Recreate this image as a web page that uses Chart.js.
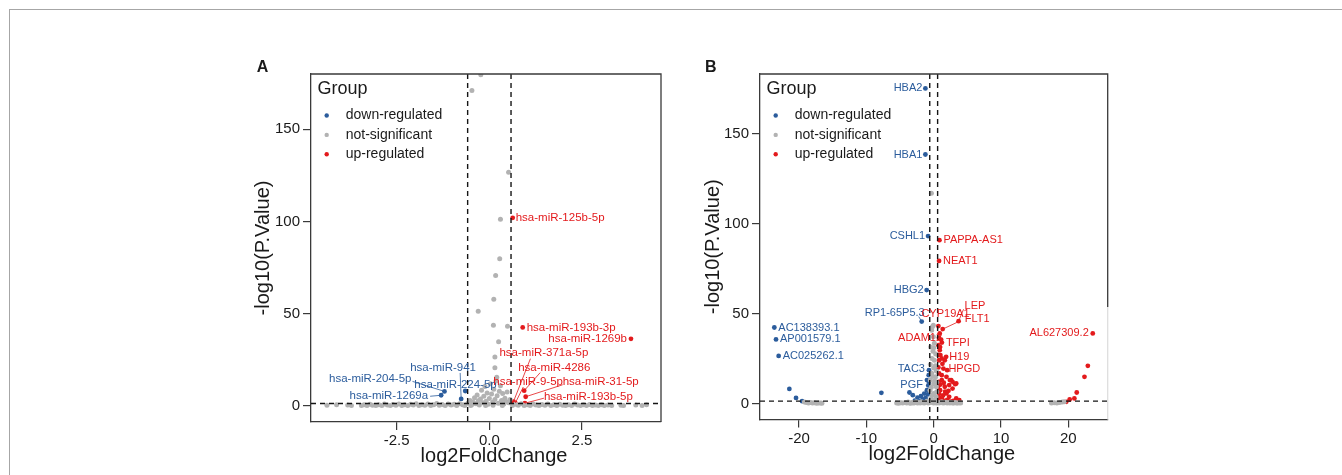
<!DOCTYPE html>
<html><head><meta charset="utf-8">
<script src="https://cdn.jsdelivr.net/npm/chart.js@4.4.1/dist/chart.umd.min.js"></script>
<style>
html,body{margin:0;padding:0;background:#fff;width:1342px;height:475px;overflow:hidden;}
#frame{position:absolute;left:9px;top:9px;width:1340px;height:470px;border-top:1px solid #a6a6a6;border-left:1px solid #a6a6a6;}
.wrap{position:absolute;top:50px;width:450px;height:425px;}
</style></head><body>
<div id="frame"></div>
<div class="wrap" style="left:230px"><canvas id="cA" width="450" height="425"></canvas></div>
<div class="wrap" style="left:680px"><canvas id="cB" width="450" height="425"></canvas></div>
<script>
// ---------------- DATA ----------------
const groups = ['down-regulated', 'not-significant', 'up-regulated'];
const yTicks = [0, 50, 100, 150];
const xTicksA = [-2.5, 0, 2.5];
const xTickLabelsA = ['-2.5', '0.0', '2.5'];
const xTicksB = [-20, -10, 0, 10, 20];
const xTickLabelsB = ['-20', '-10', '0', '10', '20'];
const fcCut = 0.585;   // |log2FC| threshold
const pCut = 1.3;      // -log10(0.05)

// Panel A (miRNA)
const grayA = [
 [-4.38,0.4],[-4.12,0.6],[-3.82,0.5],[-3.72,0.3],
 [-3.45,0.2],[-3.38,0.6],[-3.30,0.3],[-3.22,0.9],[-3.15,0.4],[-3.06,0.2],[-2.98,0.7],[-2.90,0.3],[-2.83,1.0],[-2.75,0.5],
 [-2.67,0.2],[-2.60,0.8],[-2.52,0.4],[-2.44,1.1],[-2.36,0.3],[-2.28,0.6],[-2.20,0.2],[-2.12,0.9],[-2.05,0.5],[-1.97,1.2],
 [-1.90,0.3],[-1.82,0.7],[-1.74,0.4],[-1.66,1.0],[-1.58,0.2],[-1.50,0.6],[-1.42,1.3],[-1.35,0.4],[-1.27,0.8],[-1.19,0.2],
 [-1.11,1.1],[-1.03,0.5],[-0.95,0.9],[-0.88,0.3],[-0.80,1.2],[-0.72,0.6],[-0.66,0.2],
 [-0.58,1.5],[-0.52,3.0],[-0.47,0.8],[-0.44,2.2],[-0.40,4.5],[-0.36,1.2],[-0.33,6.0],[-0.30,2.8],[-0.27,0.5],[-0.24,3.8],
 [-0.21,8.5],[-0.18,1.8],[-0.15,5.2],[-0.12,10.5],[-0.09,2.5],[-0.06,7.0],[-0.03,0.9],[0.00,4.0],[0.03,12.0],[0.06,6.5],
 [0.09,2.0],[0.12,9.0],[0.15,3.5],[0.18,13.5],[0.21,5.5],[0.24,1.5],[0.27,8.0],[0.30,11.0],[0.33,3.0],[0.36,6.8],
 [0.39,1.0],[0.42,4.2],[0.45,2.4],[0.48,7.5],[0.52,1.8],[0.56,3.5],[-0.50,0.3],[0.10,0.4],[0.35,0.2],[-0.10,0.2],
 [-0.47,171],[-0.23,179.6],[0.52,126.7],[0.30,101.2],[0.28,79.8],[0.17,70.8],[0.12,57.8],[-0.30,51.3],[0.11,43.7],
 [0.49,43.2],[0.25,34.8],[0.15,26.5],[0.15,20.7],[0.20,15.5],
 [0.62,0.3],[0.70,0.9],[0.78,0.4],[0.86,1.2],[0.94,0.2],[1.02,0.7],[1.10,0.3],[1.18,1.0],[1.26,0.5],[1.34,0.2],
 [1.42,0.8],[1.50,0.4],[1.58,1.1],[1.66,0.2],[1.74,0.6],[1.82,0.3],[1.90,0.9],[1.98,0.4],[2.06,0.2],[2.14,0.7],
 [2.22,0.3],[2.30,1.0],[2.38,0.5],[2.46,0.2],[2.54,0.6],[2.62,0.3],[2.70,0.8],[2.78,0.2],[2.86,0.5],[2.94,0.3],
 [3.02,0.7],[3.10,0.2],[3.20,0.5],[3.30,0.3],[3.55,0.4],[3.62,0.2],[3.95,0.5],[4.12,0.3],[4.24,0.6]
];
const downA = [[-1.21,7.9],[-1.30,5.8],[-0.76,3.8],[-0.65,8.1]];
const downNamesA = ['hsa-miR-204-5p','hsa-miR-1269a','hsa-miR-941','hsa-miR-224-5p'];
const upA = [[0.63,102],[0.90,42.6],[3.82,36.4],[0.65,2.3],[0.94,8.3],[0.70,1.6],[0.98,5.0],[0.96,1.5]];
const upNamesA = ['hsa-miR-125b-5p','hsa-miR-193b-3p','hsa-miR-1269b','hsa-miR-371a-5p','hsa-miR-4286','hsa-miR-9-5p','hsa-miR-31-5p','hsa-miR-193b-5p'];

// Panel B (mRNA / lncRNA)
const grayB = [
 [-19.2,0.8],[-18.9,0.5],[-18.6,0.3],[-18.3,0.6],[-18.0,0.2],[-17.7,0.4],[-17.4,0.1],[-17.1,0.3],[-16.8,0.2],[-16.6,0.1],
 [-5.5,0.3],[-5.2,0.1],[-4.9,0.4],[-4.6,0.2],
 [-4.2,0.5],[-4.0,0.2],[-3.8,0.8],[-3.6,0.3],[-3.4,0.1],[-3.2,0.6],[-3.0,0.2],[-2.8,0.4],[-2.6,0.9],[-2.4,0.2],[-2.2,0.5],
 [-2.0,0.3],[-1.8,1.0],[-1.6,0.4],[-1.4,0.2],[-1.2,0.7],[-1.0,1.2],[-0.8,0.3],[-0.6,1.1],[-0.4,0.5],[-0.2,1.0],[0.0,0.3],
 [0.2,0.8],[0.4,0.2],[0.6,0.6],[0.8,0.2],[1.0,0.5],[1.2,0.9],[1.4,0.2],[1.6,0.4],[1.8,0.7],[2.0,0.3],[2.2,0.5],[2.4,0.2],
 [2.6,0.6],[2.8,0.3],[3.0,0.2],[3.2,0.5],[3.4,0.3],[3.6,0.2],[3.8,0.4],[4.0,0.2],
 [-0.34,116.7],[-0.2,42.6],[-0.05,43.5],[-0.3,40.7],[-0.05,37.0],[0.1,33.5],[-0.45,31.4],[0.0,31.0],[-0.1,29.0],[0.3,27.5],
 [0.1,24.0],[-0.5,21.6],[0.0,19.7],[0.4,18.0],[-0.3,16.8],[0.3,14.8],[-0.5,13.0],[0.0,11.0],[0.4,9.3],[-0.55,7.4],
 [0.0,5.6],[0.35,3.7],[-0.4,2.8],[0.2,2.0],[-0.2,4.5],[0.45,6.5],[-0.35,9.0],[0.15,12.5],[-0.15,15.0],[0.25,21.0],
 [-0.25,25.0],[0.45,11.8],
 [17.5,0.2],[17.9,0.4],[18.3,0.3],[18.7,0.6],[19.1,0.8],[19.4,1.0]
];
const downB = [
 [-1.23,175],[-1.23,138.3],[-0.83,93],[-1.04,63],[-1.78,45.5],[-0.70,18.5],[-1.0,7.4],
 [-23.67,42.2],[-23.42,35.6],[-23.03,26.4],
 [-21.44,8.1],[-20.45,3.1],[-19.55,1.3],[-7.77,5.9],[-3.6,6.1],[-3.1,4.6],[-2.4,3.3],[-1.9,4.0],[-1.4,5.5],
 [-1.0,13.0],[-0.74,15.7],[-2.8,1.6],[-2.1,1.2],[-1.6,2.2],[-1.2,3.0],[-0.8,10.0],[-0.9,5.0],[-0.7,12.0]
];
const downNamesB = ['HBA2','HBA1','CSHL1','HBG2','RP1-65P5.3','TAC3','PGF','AC138393.1','AP001579.1','AC025262.1'];
const upB = [
 [0.85,90.7],[0.80,79.2],[0.70,43.0],[3.70,45.7],[1.34,41.3],[0.95,31.3],[1.22,33.8],[1.85,25.9],[1.44,19.4],[23.63,38.9],
 [0.90,38.9],[0.90,29.6],[0.80,24.0],[1.65,24.0],[1.30,22.0],[1.20,25.0],[0.80,16.7],[1.90,14.8],[2.60,13.0],[3.35,11.1],
 [2.30,10.2],[1.20,13.0],[1.65,9.3],[2.80,8.3],[0.95,7.4],[1.90,5.6],[3.35,2.8],[3.80,1.9],[0.75,3.8],[1.25,2.8],
 [2.30,3.7],[1.20,1.5],[2.00,2.0],[2.90,1.5],[0.65,9.3],[1.20,15.7],[2.00,18.5],[1.00,26.9],[0.70,32.4],[2.80,12.0],
 [3.20,10.7],[2.40,13.0],[0.70,20.0],[0.75,12.0],[1.00,10.5],[1.50,11.5],[1.70,6.5],[2.20,7.0],[1.40,4.5],[0.80,5.5],
 [1.00,1.8],[1.60,1.2],[2.50,1.0],[3.10,1.3],[0.70,1.5],[0.68,27.0],[1.10,35.5],[0.78,36.5],
 [19.7,0.9],[20.2,2.2],[20.9,2.8],[21.25,6.1],[22.4,14.8],[22.9,20.9]
];
const upNamesB = ['PAPPA-AS1','NEAT1','CYP19A1','LEP','FLT1','ADAM12','TFPI','H19','HPGD','AL627309.2'];

// ---------------- STYLE / LAYOUT ----------------
const FONT = "'Liberation Sans', Arial, Helvetica, sans-serif";
const COL = {down:'#2b5c9c', gray:'#b2b2b2', up:'#e31a1c', ink:'#1a1a1a', axis:'#3a3a3a'};

const labelLayoutA = {
 'hsa-miR-125b-5p':{dx:3,dy:0,al:'left'},
 'hsa-miR-193b-3p':{dx:4,dy:0,al:'left'},
 'hsa-miR-1269b':{dx:-4,dy:0,al:'right'},
 'hsa-miR-371a-5p':{dx:-14,dy:-49,al:'left',l:[17,-43]},
 'hsa-miR-4286':{dx:-6,dy:-23,al:'left',l:[16,-18]},
 'hsa-miR-9-5p':{dx:-22,dy:-21,al:'left',l:[8,-16]},
 'hsa-miR-31-5p':{dx:37,dy:-15,al:'left',l:[37,-12]},
 'hsa-miR-193b-5p':{dx:19,dy:-6,al:'left',l:[19,-5]},
 'hsa-miR-204-5p':{dx:-33,dy:-13,al:'right',l:[-32,-10]},
 'hsa-miR-1269a':{dx:-13,dy:1,al:'right',l:[-11,1]},
 'hsa-miR-941':{dx:-51,dy:-31,al:'left',l:[-1,-26]},
 'hsa-miR-224-5p':{dx:-51,dy:-6,al:'left'}
};
const labelLayoutB = {
 'HBA2':{dx:-3,dy:0,al:'right'}, 'HBA1':{dx:-3,dy:0,al:'right'}, 'CSHL1':{dx:-3,dy:0,al:'right'},
 'HBG2':{dx:-3,dy:0,al:'right'},
 'RP1-65P5.3':{dx:3,dy:-9,al:'right',l:[-3,-5]},
 'TAC3':{dx:-4,dy:-1.5,al:'right'},
 'PGF':{dx:-4,dy:-5,al:'right'},
 'AC138393.1':{dx:4,dy:0,al:'left'}, 'AP001579.1':{dx:4,dy:0,al:'left'}, 'AC025262.1':{dx:4,dy:0,al:'left'},
 'PAPPA-AS1':{dx:4,dy:0,al:'left'}, 'NEAT1':{dx:4,dy:0,al:'left'},
 'CYP19A1':{dx:-17,dy:-12,al:'left'},
 'LEP':{dx:6,dy:-15,al:'left',l:[5,-12]},
 'FLT1':{dx:22,dy:-10,al:'left',l:[17,-8]},
 'ADAM12':{dx:2,dy:-9,al:'right'},
 'TFPI':{dx:4,dy:0,al:'left'},
 'H19':{dx:3,dy:0,al:'left'},
 'HPGD':{dx:5,dy:0,al:'left'},
 'AL627309.2':{dx:-4,dy:0,al:'right'}
};

function toPts(arr){ return arr.map(p => ({x:p[0], y:p[1]})); }

function volcanoPlugin(o){
 return {
  id:'volcano',
  afterDatasetsDraw(chart){
   const {ctx, chartArea:a, scales:{x, y}} = chart;
   ctx.save();
   // dashed threshold lines
   ctx.beginPath(); ctx.rect(a.left, a.top, a.right-a.left, a.bottom-a.top); ctx.clip();
   ctx.setLineDash([5,4]); ctx.lineWidth = 1.4; ctx.strokeStyle = '#151515';
   [-fcCut, fcCut].forEach(v => {
     const px = x.getPixelForValue(v);
     ctx.beginPath(); ctx.moveTo(px, a.top); ctx.lineTo(px, a.bottom); ctx.stroke();
   });
   const py0 = y.getPixelForValue(pCut);
   ctx.beginPath(); ctx.moveTo(a.left, py0); ctx.lineTo(a.right, py0); ctx.stroke();
   ctx.restore();
   ctx.save();
   // frame (top & right)
   ctx.strokeStyle = COL.axis; ctx.lineWidth = 1.3;
   const rb = o.rightBreak || a.bottom;
   ctx.beginPath(); ctx.moveTo(a.left, a.top); ctx.lineTo(a.right, a.top); ctx.lineTo(a.right, rb); ctx.stroke();
   if (o.rightBreak){
     ctx.strokeStyle = '#dedede'; ctx.beginPath(); ctx.moveTo(a.right, rb); ctx.lineTo(a.right, a.bottom); ctx.stroke();
   }
   // labels
   ctx.font = o.labelSize + 'px ' + FONT; ctx.textBaseline = 'middle';
   const drawLabels = (pts, names, color) => {
     names.forEach((nm, i) => {
       const L = o.layout[nm]; if (!L) return;
       const px = x.getPixelForValue(pts[i][0]), py = y.getPixelForValue(pts[i][1]);
       ctx.strokeStyle = color; ctx.fillStyle = color; ctx.lineWidth = 0.8;
       if (L.l){ ctx.beginPath(); ctx.moveTo(px, py); ctx.lineTo(px+L.l[0], py+L.l[1]); ctx.stroke(); }
       ctx.textAlign = L.al; ctx.fillText(nm, px+L.dx, py+L.dy);
     });
   };
   drawLabels(o.down, o.downNames, COL.down);
   drawLabels(o.up, o.upNames, COL.up);
   // legend
   ctx.textAlign = 'left'; ctx.fillStyle = COL.ink;
   ctx.font = '18px ' + FONT; ctx.fillText('Group', a.left+6.5, a.top+15);
   ctx.font = '14px ' + FONT;
   const lc = [COL.down, COL.gray, COL.up];
   groups.forEach((g, i) => {
     const yy = a.top + 41.5 + i*19.4;
     ctx.fillStyle = lc[i]; ctx.beginPath(); ctx.arc(a.left+15.7, yy, 2.2, 0, Math.PI*2); ctx.fill();
     ctx.fillStyle = COL.ink; ctx.fillText(g, a.left+34.7, yy);
   });
   // x-axis title (slightly right of panel centre, as in the source figure)
   ctx.font = '20px ' + FONT; ctx.textAlign = 'center'; ctx.textBaseline = 'middle'; ctx.fillStyle = COL.ink;
   ctx.fillText('log2FoldChange', (a.left + a.right)/2 + 8, chart.height - o.padding.bottom - 18.5);
   // panel letter
   ctx.font = 'bold 16px ' + FONT; ctx.textAlign = 'left'; ctx.textBaseline = 'alphabetic';
   ctx.fillText(o.letter, o.letterX, 21.7);
   ctx.restore();
  }
 };
}

function makeChart(id, o){
 const tickFont = {family:FONT, size:15};
 return new Chart(document.getElementById(id), {
  type:'scatter',
  data:{datasets:[
   {label:groups[1], data:toPts(o.gray), backgroundColor:COL.gray, pointRadius:2.5, borderWidth:0},
   {label:groups[0], data:toPts(o.down), backgroundColor:COL.down, pointRadius:2.4, borderWidth:0},
   {label:groups[2], data:toPts(o.up), backgroundColor:COL.up, pointRadius:2.4, borderWidth:0}
  ]},
  options:{
   responsive:false, animation:false, events:[],
   layout:{padding:o.padding},
   plugins:{legend:{display:false}, tooltip:{enabled:false}},
   scales:{
    x:{type:'linear', min:o.xmin, max:o.xmax,
       afterBuildTicks:s => { s.ticks = o.xt.map(v => ({value:v})); },
       afterFit:s => { s.height = 53; },
       ticks:{callback:v => { const i = o.xt.indexOf(v); return i >= 0 ? o.xtl[i] : ''; },
              font:tickFont, color:COL.ink, padding:2, maxRotation:0, autoSkip:false},
       grid:{drawOnChartArea:false, drawTicks:true, tickLength:8, color:COL.axis, lineWidth:1.2},
       border:{display:true, color:COL.axis, width:1.3},
       title:{display:false}
    },
    y:{type:'linear', min:o.ymin, max:o.ymax,
       afterBuildTicks:s => { s.ticks = yTicks.map(v => ({value:v})); },
       afterFit:s => { s.width = o.yw; },
       ticks:{font:tickFont, color:COL.ink, padding:3, autoSkip:false},
       grid:{drawOnChartArea:false, drawTicks:true, tickLength:8, color:COL.axis, lineWidth:1.2},
       border:{display:true, color:COL.axis, width:1.3},
       title:{display:true, text:'-log10(P.Value)', font:{family:FONT, size:20}, color:COL.ink, padding:{top:21, bottom:0}}
    }
   }
  },
  plugins:[volcanoPlugin(o)]
 });
}

makeChart('cA', {
 gray:grayA, down:downA, up:upA, downNames:downNamesA, upNames:upNamesA, layout:labelLayoutA, labelSize:11.5,
 xmin:-4.81, xmax:4.63, ymin:-8.7, ymax:180, xt:xTicksA, xtl:xTickLabelsA, yw:81,
 padding:{left:0, top:24, right:19, bottom:0}, letter:'A', letterX:26.7
});
makeChart('cB', {
 gray:grayB, down:downB, up:upB, downNames:downNamesB, upNames:upNamesB, layout:labelLayoutB, labelSize:11,
 xmin:-25.8, xmax:25.85, ymin:-8.9, ymax:183, xt:xTicksB, xtl:xTickLabelsB, yw:80,
 padding:{left:0, top:24, right:22.3, bottom:2.5}, letter:'B', letterX:25, rightBreak:257
});
</script>
</body></html>
